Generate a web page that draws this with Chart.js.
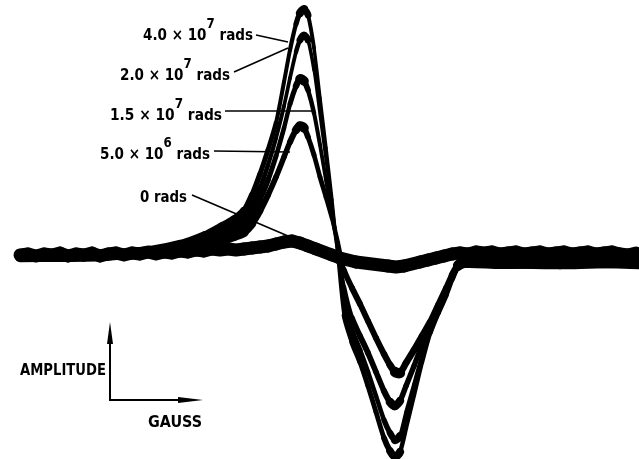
<!DOCTYPE html>
<html>
<head>
<meta charset="utf-8">
<script src="https://cdn.jsdelivr.net/npm/chart.js@4/dist/chart.umd.min.js"></script>
<style>
  html, body { margin: 0; padding: 0; background: #ffffff; }
  #wrap { width: 639px; height: 459px; position: relative; }
</style>
</head>
<body>
<div id="wrap"><canvas id="esr"></canvas></div>
<script>
// Unirradiated sample trace (field position, derivative amplitude)
const fieldZero = [
  20, 28, 36, 44, 52, 60, 68, 76, 84, 92, 100, 108, 116, 124, 132, 140, 148, 156, 164,
  172, 180, 188, 196, 204, 212, 220, 228, 236, 244, 252, 260, 268, 276, 284, 292, 300,
  308, 316, 324, 332, 340, 348, 356, 364, 372, 380, 388, 396, 404, 412, 420, 428, 436,
  444, 452, 460, 468, 476, 484, 492, 500, 508, 516, 524, 532, 540, 548, 556, 564, 572,
  580, 588, 596, 604, 612, 620, 628, 636
];
const ampZero = [
  0, 1, -1, 1, 0, 2, -1, 1, 0, 2, -1, 1, 2, 0, 2, 1, 3, 1, 3,
  2, 4, 3, 5, 4, 6, 5, 6, 5, 6, 7, 8, 9, 11, 13, 14, 12,
  9, 6, 3, 0, -3, -5, -7, -8, -9, -10, -11, -12, -11, -9, -7, -5, -3,
  -1, 1, 2, 1, 3, 2, 3, 1, 2, 3, 1, 2, 3, 1, 2, 3, 1,
  2, 3, 1, 2, 3, 1, 0, 2
];

// Irradiated sample traces share one field grid
const fieldDose = [
  20, 100, 150, 180, 205, 222, 234, 244, 252, 260, 268, 276, 284, 290, 296, 300, 304,
  308, 314, 320, 326, 332, 338, 344, 352, 360, 368, 376, 384, 390, 395, 400, 406, 414,
  422, 430, 438, 446, 452, 458, 466, 500, 560, 639
];
const amp5e6 = [
  -1, 0, 2, 5, 10, 15, 19, 23, 31, 44, 60, 78, 98, 113, 125, 129, 127,
  118, 100, 78, 58, 37, 12, -15, -33, -49, -66, -83, -99, -110, -117, -118, -108, -95,
  -81, -67, -50, -33, -20, -10, -6, -7, -8, -7
];
const amp15e6 = [
  -1, 0, 3, 7, 13, 19, 25, 30, 41, 56, 75, 99, 127, 151, 169, 176, 174,
  165, 142, 110, 75, 40, 5, -32, -63, -81, -98, -117, -136, -147, -151, -146, -131, -111,
  -90, -72, -53, -36, -22, -11, -7, -8, -9, -7
];
const amp2e7 = [
  -1, 0, 3, 8, 16, 24, 30, 36, 49, 67, 90, 117, 149, 177, 203, 215, 220,
  215, 185, 140, 95, 50, 3, -45, -75, -95, -117, -141, -165, -178, -185, -181, -158, -130,
  -101, -75, -55, -38, -23, -11, -8, -9, -8, -8
];
const amp4e7 = [
  -2, -1, 4, 10, 19, 28, 35, 44, 60, 81, 105, 132, 173, 205, 231, 242, 246,
  240, 207, 157, 107, 55, -3, -60, -87, -107, -131, -157, -183, -196, -202, -197, -173, -140,
  -107, -78, -58, -40, -24, -11, -7, -8, -7, -9
];

// Dose labels: mantissa, power of ten (empty for none)
const doseMantissa = ['4.0 \u00d7 10', '2.0 \u00d7 10', '1.5 \u00d7 10', '5.0 \u00d7 10', '0'];
const doseExponent = ['7', '7', '7', '6', ''];
// Where each leader line touches the traces (field, amplitude)
const leaderField = [288, 288, 312, 290, 288];
const leaderAmp = [213, 207, 144, 103, 19];

const toPoints = (xs, ys) => xs.map((x, i) => ({ x: x, y: ys[i] }));
const ink = '#000000';

// Recorder noise smears each trace vertically, so a trace looks thick
// where it runs flat and thin where it runs steeply.
const smear = (base, spread) => (c) => {
  const dx = c.p1.x - c.p0.x, dy = c.p1.y - c.p0.y;
  const len = Math.hypot(dx, dy) || 1;
  return base + spread * Math.abs(dx) / len;
};

function trace(label, xs, ys, base, spread, tension) {
  return {
    label: label,
    data: toPoints(xs, ys),
    borderColor: ink,
    borderWidth: base + spread,
    segment: { borderWidth: smear(base, spread) },
    pointRadius: 0,
    tension: tension,
    fill: false,
    clip: false,
    borderCapStyle: 'round',
    borderJoinStyle: 'round'
  };
}

// Text layout for the dose labels and their leader lines
const labelLayout = [
  { x: 143, y: 40, w: 110, lx: 256, ly: 35 },
  { x: 120, y: 80, w: 110, lx: 234, ly: 72 },
  { x: 110, y: 120, w: 112, lx: 225, ly: 111 },
  { x: 100, y: 159, w: 110, lx: 214, ly: 151 },
  { x: 140, y: 202, w: 47, lx: 192, ly: 195 }
];

const FACE = '"DejaVu Sans Condensed", "DejaVu Sans", sans-serif';

function fittedText(ctx, parts, x, y, width) {
  // parts: [{text, font, rise}]
  let total = 0;
  parts.forEach(p => { ctx.font = p.font; p.w = ctx.measureText(p.text).width; total += p.w; });
  const s = width / total;
  ctx.save();
  ctx.translate(x, y);
  ctx.scale(s, 1);
  let cx = 0;
  parts.forEach(p => { ctx.font = p.font; ctx.fillText(p.text, cx, -p.rise); cx += p.w; });
  ctx.restore();
}

const annotate = {
  id: 'annotate',
  afterDatasetsDraw(chart) {
    const ctx = chart.ctx;
    const xs = chart.scales.x, ys = chart.scales.y;
    ctx.save();
    ctx.fillStyle = ink;
    ctx.strokeStyle = ink;
    ctx.textBaseline = 'alphabetic';
    const mainFont = 'bold 16px ' + FACE;
    const supFont = 'bold 14px ' + FACE;
    doseMantissa.forEach((m, i) => {
      const L = labelLayout[i];
      const parts = [{ text: m, font: mainFont, rise: 0 }];
      if (doseExponent[i]) parts.push({ text: doseExponent[i], font: supFont, rise: 12 });
      parts.push({ text: ' rads', font: mainFont, rise: 0 });
      fittedText(ctx, parts, L.x, L.y, L.w);
      ctx.lineWidth = 1.6;
      ctx.beginPath();
      ctx.moveTo(L.lx, L.ly);
      ctx.lineTo(xs.getPixelForValue(leaderField[i]), ys.getPixelForValue(leaderAmp[i]));
      ctx.stroke();
    });

    // Axis key: amplitude (up) versus field (right)
    const ox = 110, oy = 400;
    ctx.lineWidth = 2;
    ctx.beginPath();
    ctx.moveTo(ox, 332);
    ctx.lineTo(ox, oy);
    ctx.lineTo(192, oy);
    ctx.stroke();
    ctx.beginPath();
    ctx.moveTo(ox, 322);
    ctx.lineTo(ox - 3, 344);
    ctx.lineTo(ox + 3, 344);
    ctx.closePath();
    ctx.fill();
    ctx.beginPath();
    ctx.moveTo(203, oy);
    ctx.lineTo(178, oy - 3);
    ctx.lineTo(178, oy + 3);
    ctx.closePath();
    ctx.fill();
    fittedText(ctx, [{ text: 'AMPLITUDE', font: 'bold 16px ' + FACE, rise: 0 }], 20, 375, 86);
    fittedText(ctx, [{ text: 'GAUSS', font: 'bold 16px ' + FACE, rise: 0 }], 148, 427, 54);
    ctx.restore();
  }
};

new Chart(document.getElementById('esr'), {
  type: 'line',
  data: {
    datasets: [
      trace('0 rads', fieldZero, ampZero, 11, 2, 0),
      trace('5.0 \u00d7 10^6 rads', fieldDose, amp5e6, 2.5, 8, 0.25),
      trace('1.5 \u00d7 10^7 rads', fieldDose, amp15e6, 2.5, 8, 0.25),
      trace('2.0 \u00d7 10^7 rads', fieldDose, amp2e7, 2, 8, 0.25),
      trace('4.0 \u00d7 10^7 rads', fieldDose, amp4e7, 2.5, 8, 0.25)
    ]
  },
  options: {
    responsive: true,
    maintainAspectRatio: false,
    animation: false,
    devicePixelRatio: 1,
    layout: { padding: 0 },
    plugins: { legend: { display: false }, tooltip: { enabled: false } },
    scales: {
      x: { type: 'linear', min: 0, max: 639, display: false },
      y: { type: 'linear', min: -204, max: 255, display: false }
    }
  },
  plugins: [annotate]
});
</script>
</body>
</html>
